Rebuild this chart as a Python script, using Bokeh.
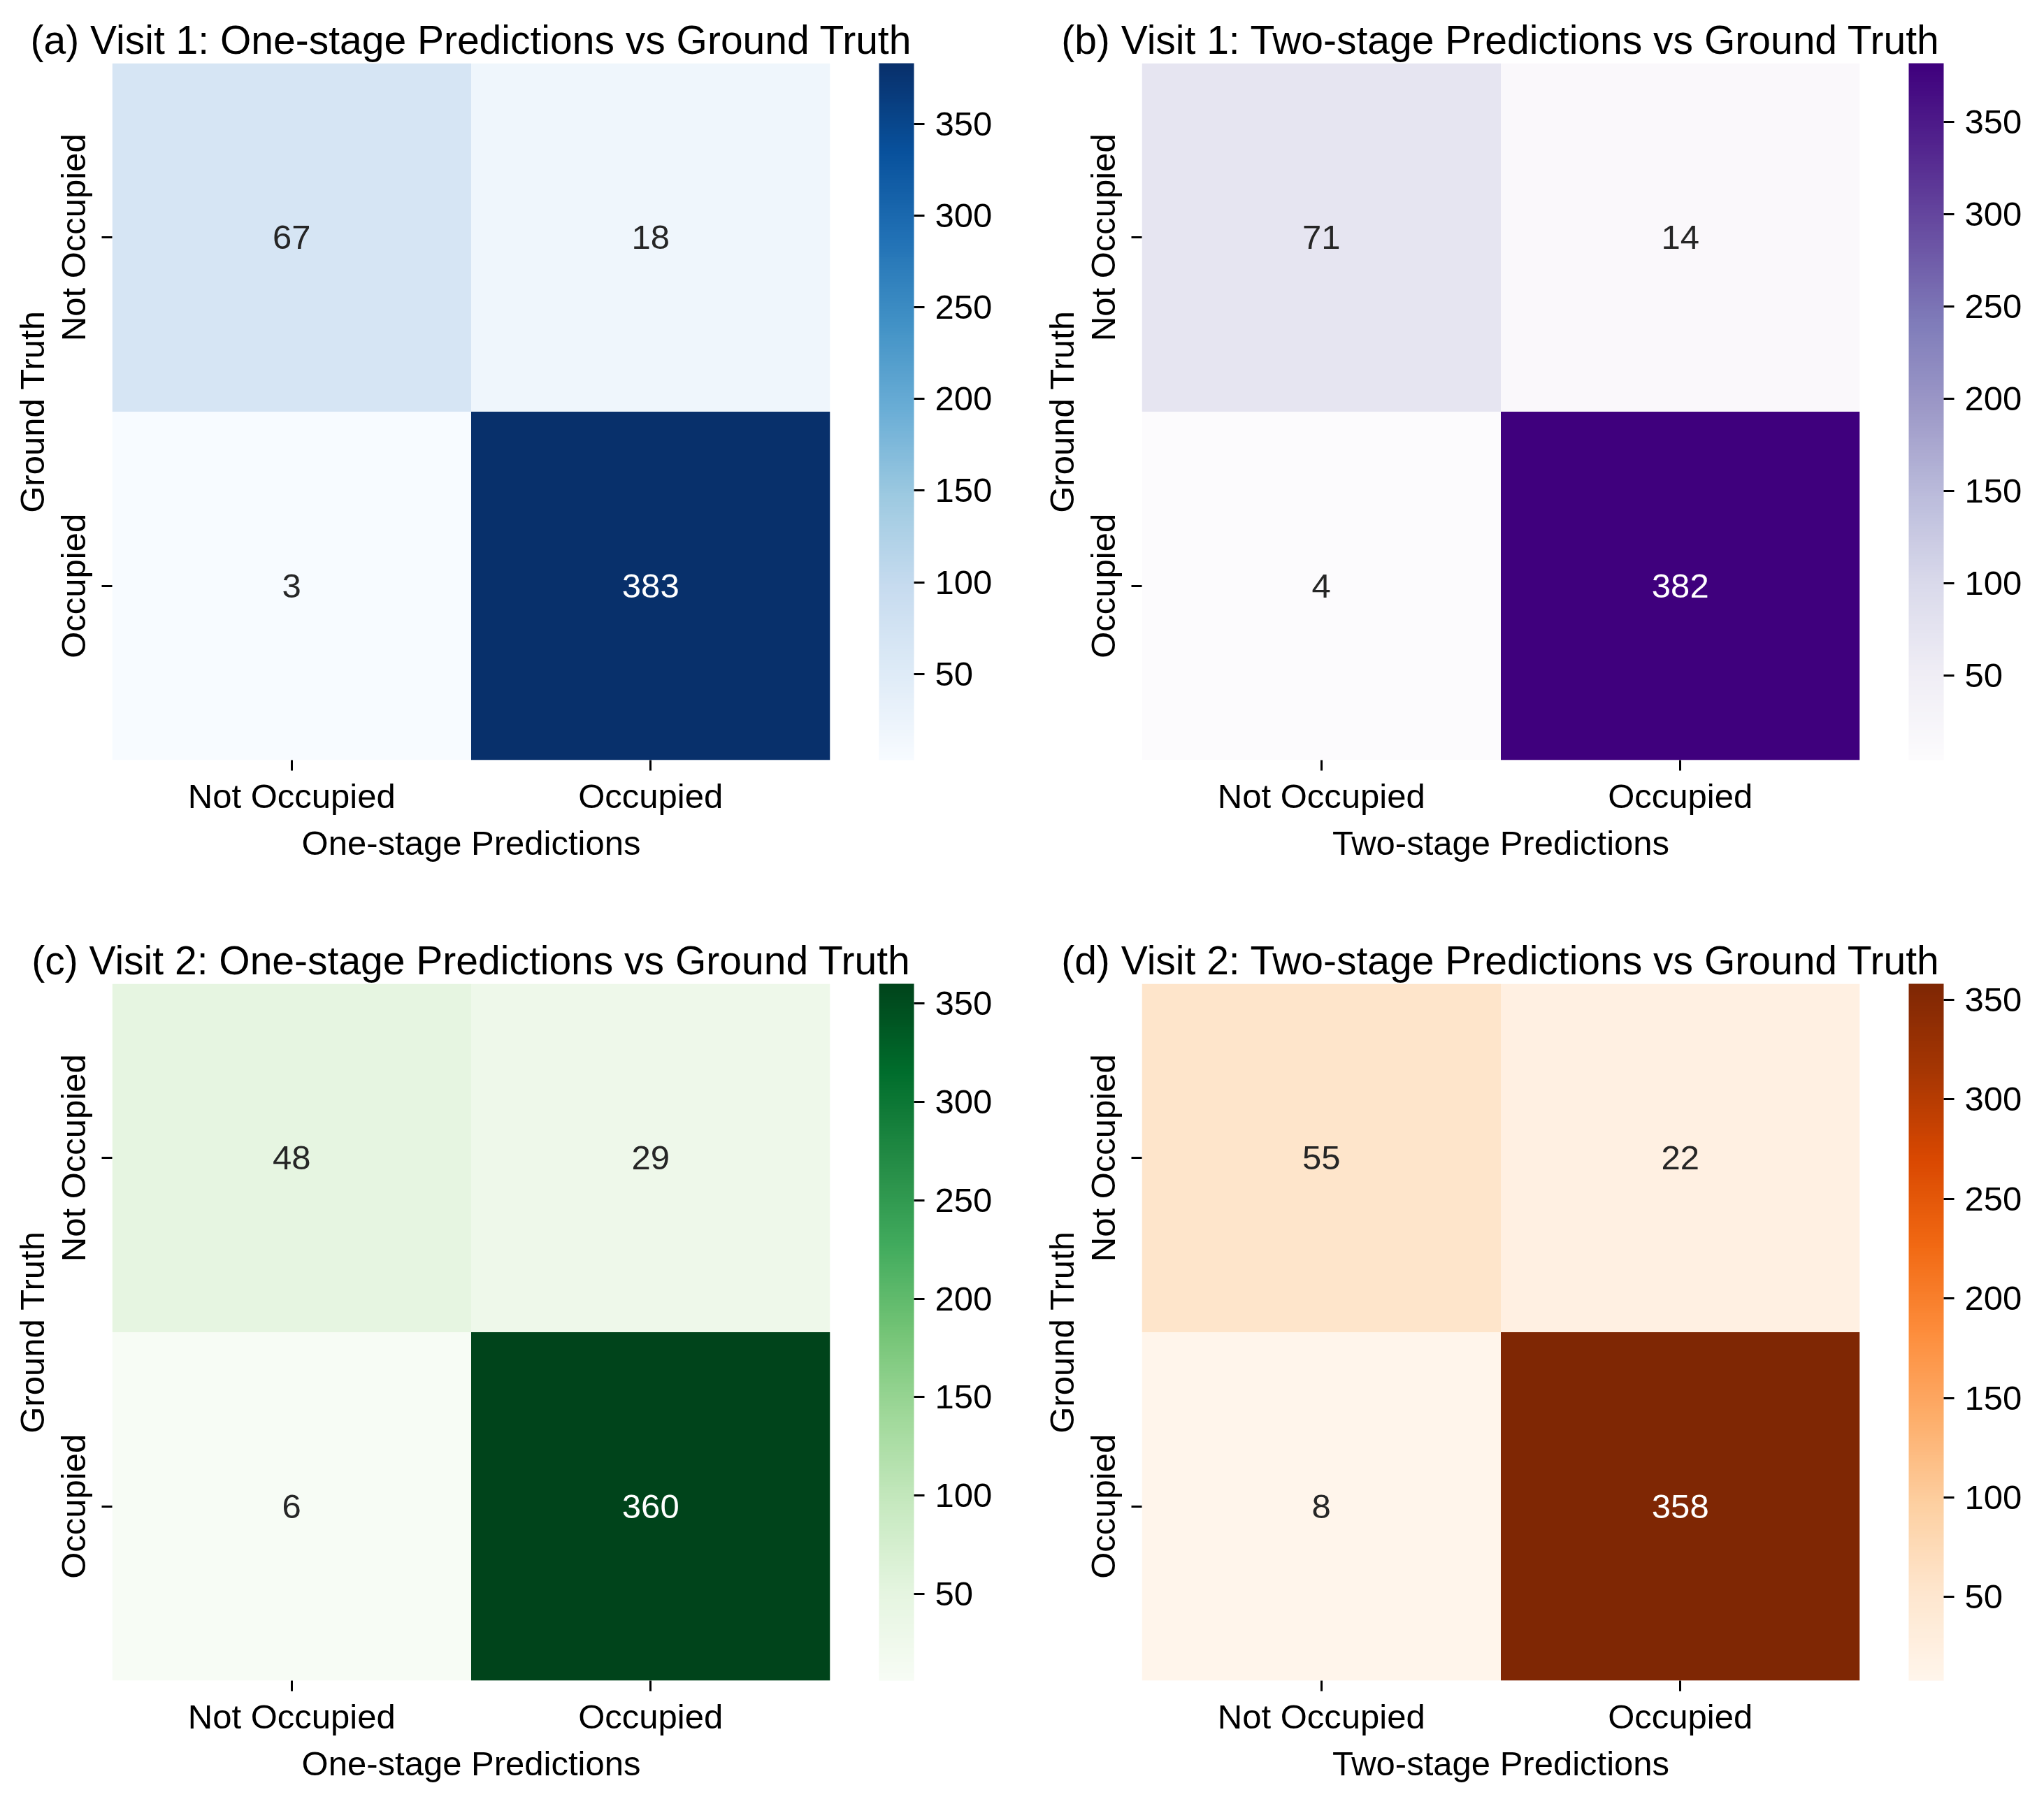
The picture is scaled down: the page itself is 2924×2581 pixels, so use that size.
import numpy as np
from bokeh.plotting import figure
from bokeh.models import (ColumnDataSource, LinearColorMapper, ColorBar, FixedTicker,
                          FactorRange, CategoricalAxis)
from bokeh.layouts import column, row
from bokeh.embed import file_html
from bokeh.resources import INLINE
from bokeh.core.properties import value

# ---------------- data ----------------
categories = ["Not Occupied", "Occupied"]
visit1_one_stage = [[67, 18], [3, 383]]
visit1_two_stage = [[71, 14], [4, 382]]
visit2_one_stage = [[48, 29], [6, 360]]
visit2_two_stage = [[55, 22], [8, 358]]
titles = [
    "(a) Visit 1: One-stage Predictions vs Ground Truth",
    "(b) Visit 1: Two-stage Predictions vs Ground Truth",
    "(c) Visit 2: One-stage Predictions vs Ground Truth",
    "(d) Visit 2: Two-stage Predictions vs Ground Truth",
]
x_labels = ["One-stage Predictions", "Two-stage Predictions",
            "One-stage Predictions", "Two-stage Predictions"]
y_label = "Ground Truth"
colorbar_ticks = [50, 100, 150, 200, 250, 300, 350]

# matplotlib (ColorBrewer) sequential maps, light -> dark
BLUES = ["#f7fbff", "#deebf7", "#c6dbef", "#9ecae1", "#6baed6", "#4292c6", "#2171b5", "#08519c", "#08306b"]
PURPLES = ["#fcfbfd", "#efedf5", "#dadaeb", "#bcbddc", "#9e9ac8", "#807dba", "#6a51a3", "#54278f", "#3f007d"]
GREENS = ["#f7fcf5", "#e5f5e0", "#c7e9c0", "#a1d99b", "#74c476", "#41ab5d", "#238b45", "#006d2c", "#00441b"]
ORANGES = ["#fff5eb", "#fee6ce", "#fdd0a2", "#fdae6b", "#fd8d3c", "#f16913", "#d94801", "#a63603", "#7f2704"]


def hex_to_rgb(h):
    h = h.lstrip("#")
    return np.array([int(h[i:i + 2], 16) for i in (0, 2, 4)], dtype=float)


def make_palette(anchors, n=256):
    rgb = np.array([hex_to_rgb(c) for c in anchors])
    xs = np.linspace(0, 1, len(anchors))
    t = np.linspace(0, 1, n)
    out = []
    for tt in t:
        r = np.interp(tt, xs, rgb[:, 0])
        g = np.interp(tt, xs, rgb[:, 1])
        b = np.interp(tt, xs, rgb[:, 2])
        out.append("#%02x%02x%02x" % (int(round(r)), int(round(g)), int(round(b))))
    return out


def rel_lum(hexcol):
    c = hex_to_rgb(hexcol) / 255.0
    c = np.where(c <= 0.03928, c / 12.92, ((c + 0.055) / 1.055) ** 2.4)
    return 0.2126 * c[0] + 0.7152 * c[1] + 0.0722 * c[2]


FONT = "Liberation Sans"
TICK_PX = "49px"
TITLE_PX = "57px"

FRAME_W, FRAME_H = 1027, 997
LEFT_B, TOP_B = 160, 90
COL_W = [1473, 1435]
ROW_H = [1317, 1248]
CB_GAP = 70


def make_panel(mat, anchors, title, xlabel, col, rowi):
    palette = make_palette(anchors)
    arr = np.array(mat, dtype=float)
    lo, hi = arr.min(), arr.max()
    mapper = LinearColorMapper(palette=palette, low=lo, high=hi)

    xs, ys, vals, txt, tcol = [], [], [], [], []
    for i, truth in enumerate(categories):
        for j, pred in enumerate(categories):
            v = mat[i][j]
            xs.append(pred)
            ys.append(truth)
            vals.append(v)
            txt.append(str(v))
            idx = int(min(255, max(0, (v - lo) / (hi - lo) * 256)))
            tcol.append("#262626" if rel_lum(palette[idx]) > 0.408 else "#ffffff")
    src = ColumnDataSource(dict(x=xs, y=ys, v=vals, t=txt, c=tcol))

    W, H = COL_W[col], ROW_H[rowi]
    p = figure(width=W, height=H,
               x_range=FactorRange(*categories, range_padding=0),
               y_range=FactorRange(*categories[::-1], range_padding=0),
               output_backend="svg", toolbar_location=None,
               min_border_left=LEFT_B, min_border_top=TOP_B,
               min_border_right=W - LEFT_B - FRAME_W,
               min_border_bottom=H - TOP_B - FRAME_H)
    p.rect(x="x", y="y", width=1, height=1, source=src,
           fill_color={"field": "v", "transform": mapper}, line_color=None)
    p.text(x="x", y="y", text="t", source=src, text_color="c",
           text_align="center", text_baseline="middle",
           text_font=value(FONT), text_font_size=TICK_PX)

    p.title.text = title
    p.title.align = "center"
    p.title.text_font = FONT
    p.title.text_font_size = TITLE_PX
    p.title.text_font_style = "normal"
    p.title.text_color = "black"
    p.title.standoff = 4

    p.grid.visible = False
    p.outline_line_color = None
    for ax in (p.xaxis[0], p.yaxis[0]):
        ax.axis_line_color = None
        ax.major_tick_in = 0
        ax.major_tick_out = 15
        ax.major_tick_line_width = 3
        ax.major_tick_line_color = "black"
        ax.minor_tick_line_color = None
        ax.major_label_text_font = FONT
        ax.major_label_text_font_size = TICK_PX
        ax.major_label_text_color = "black"
        ax.axis_label_text_font = FONT
        ax.axis_label_text_font_size = TICK_PX
        ax.axis_label_text_font_style = "normal"
        ax.axis_label_text_color = "black"
    p.xaxis.axis_label = xlabel
    p.yaxis.axis_label = y_label
    p.xaxis.major_label_standoff = 9
    p.xaxis.axis_label_standoff = 10
    p.yaxis.major_label_standoff = 14
    p.yaxis.axis_label_standoff = 2
    p.yaxis.major_label_orientation = "vertical"

    # invisible spacer between the heatmap and its colour bar
    spacer = CategoricalAxis(axis_line_color=None, major_tick_in=0, major_tick_out=CB_GAP,
                             major_tick_line_color=None, minor_tick_line_color=None,
                             major_label_standoff=0, major_label_text_font_size="0px",
                             major_label_text_color=None,
                             separator_line_color=None, group_text_color=None)
    p.add_layout(spacer, "right")

    cb = ColorBar(color_mapper=mapper, ticker=FixedTicker(ticks=colorbar_ticks),
                  width=50, height=FRAME_H, padding=0, margin=0,
                  major_label_text_font=FONT, major_label_text_font_size=TICK_PX,
                  major_label_text_color="black",
                  major_tick_out=15, major_tick_in=0,
                  major_tick_line_color="black", major_tick_line_width=3,
                  minor_tick_line_color=None,
                  bar_line_color=None, border_line_color=None,
                  label_standoff=15)
    p.add_layout(cb, "right")
    return p


pa = make_panel(visit1_one_stage, BLUES, titles[0], x_labels[0], 0, 0)
pb = make_panel(visit1_two_stage, PURPLES, titles[1], x_labels[1], 1, 0)
pc = make_panel(visit2_one_stage, GREENS, titles[2], x_labels[2], 0, 1)
pd = make_panel(visit2_two_stage, ORANGES, titles[3], x_labels[3], 1, 1)

layout = column(row(pa, pb), row(pc, pd))
open("out.html", "w").write(file_html(layout, INLINE))
